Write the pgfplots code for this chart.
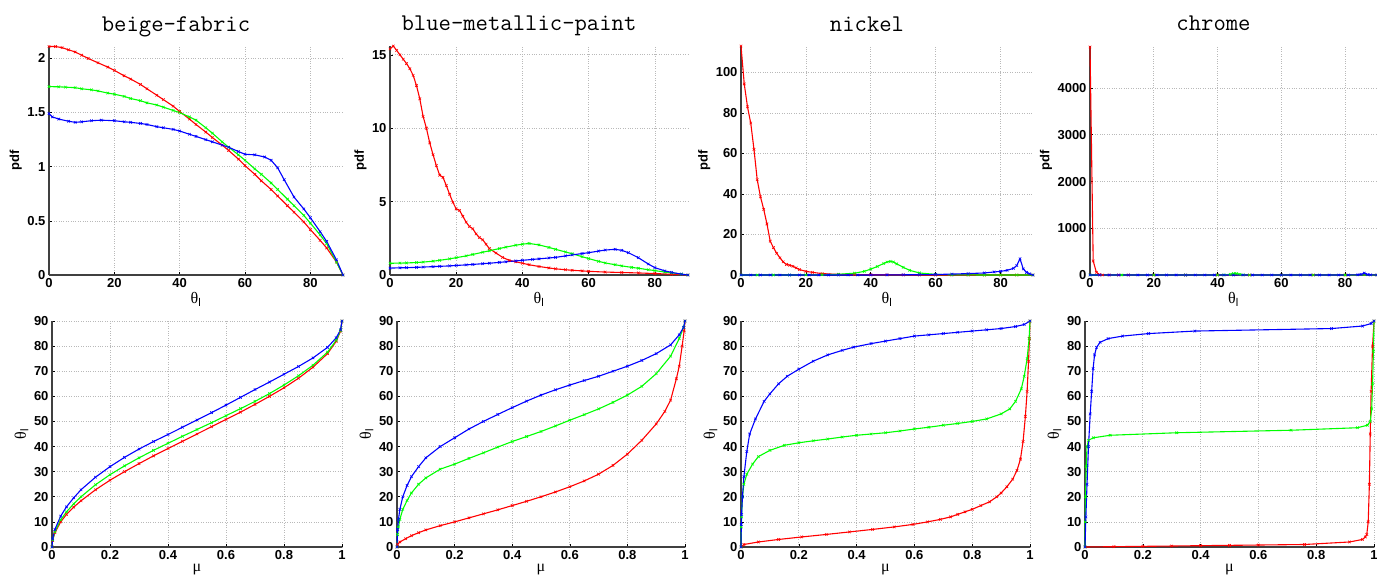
\documentclass[border=0pt]{standalone}
\usepackage{fontspec}
\setmainfont{Liberation Sans}
\newfontfamily\grk{Liberation Serif}
\usepackage{pgfplots}
\pgfplotsset{compat=1.18}

\definecolor{mred}{RGB}{255,0,0}
\definecolor{mgreen}{RGB}{0,255,0}
\definecolor{mblue}{RGB}{0,0,255}

\newcommand{\thl}{{\grk θ}\textsubscript{l}}

\pgfplotsset{
  panel/.style={
    scale only axis, anchor=south west, clip=false,
    axis lines=left, axis line style={-, line width=1.2pt, black!75},
    tick align=inside, major tick length=3pt,
    tick style={black, line width=0.6pt},
    grid=major, grid style={dotted, gray!55, line width=0.7pt},
    tick label style={font=\bfseries\fontsize{13}{15}\selectfont},
    /pgf/number format/assume math mode=true,
    /pgf/number format/1000 sep={},
    scaled ticks=false,
    every axis title/.style={at={(0.5,1)}, anchor=base, yshift=15pt, xshift=-20pt,
      font=\ttfamily\fontsize{24}{26}\selectfont},
    xlabel style={font=\fontsize{16}{18}\selectfont, inner sep=1pt},
    ylabel style={inner sep=2pt},
    every axis plot/.append style={line width=1.1pt, mark=x, mark size=1.8pt,
      mark options={line width=0.6pt}},
  },
  top/.style={panel, height=229pt, xmin=0, xmax=90, ymin=0,
    xtick={0,20,40,60,80}, xlabel={\thl},
    ylabel={pdf}, ylabel style={font=\bfseries\fontsize{13}{15}\selectfont}},
  bot/.style={panel, height=226pt, xmin=0, xmax=1, ymin=0, ymax=90,
    xtick={0,0.2,0.4,0.6,0.8,1}, ytick={0,10,...,90},
    xlabel={{\grk μ}}, ylabel={\thl},
    ylabel style={font=\fontsize{16}{18}\selectfont}},
}

\begin{document}
\begin{tikzpicture}

% ---------- top row: pdf ----------
\begin{axis}[top, at={(49pt,-275pt)}, width=294pt, ymax=2.115,
  ytick={0,0.5,1,1.5,2}, title={beige-fabric}]
\addplot[mred] coordinates {(0,2.11) (2,2.11) (4,2.10) (6,2.08) (8,2.06) (10,2.03) (12,2.0) (15,1.96) (18,1.92) (20,1.89) (23,1.84) (25,1.81) (28,1.76) (30,1.72) (33,1.66) (35,1.62) (38,1.56) (40,1.51) (43,1.44) (45,1.39) (48,1.32) (50,1.27) (53,1.20) (55,1.15) (58,1.07) (60,1.01) (63,0.93) (65,0.87) (68,0.79) (70,0.73) (73,0.64) (75,0.58) (78,0.49) (80,0.42) (83,0.32) (85,0.25) (88,0.12) (90,0)};
\addplot[mgreen] coordinates {(0,1.74) (3,1.738) (5,1.735) (8,1.73) (10,1.72) (13,1.71) (15,1.70) (18,1.68) (20,1.67) (23,1.65) (25,1.63) (28,1.61) (30,1.59) (33,1.57) (35,1.55) (38,1.52) (40,1.50) (43,1.46) (45,1.43) (48,1.36) (50,1.31) (53,1.23) (55,1.18) (58,1.11) (60,1.06) (63,0.98) (65,0.93) (68,0.85) (70,0.79) (73,0.70) (75,0.64) (78,0.55) (80,0.48) (83,0.37) (85,0.29) (88,0.12) (90,0)};
\addplot[mblue] coordinates {(0,1.49) (1,1.46) (3,1.44) (6,1.42) (8,1.41) (10,1.415) (13,1.425) (16,1.43) (20,1.425) (23,1.415) (25,1.41) (28,1.40) (30,1.39) (33,1.37) (35,1.36) (38,1.345) (40,1.33) (43,1.30) (45,1.28) (48,1.25) (50,1.23) (53,1.20) (55,1.18) (58,1.14) (60,1.115) (63,1.11) (66,1.09) (68,1.06) (70,0.99) (72,0.88) (75,0.72) (78,0.61) (80,0.53) (83,0.40) (85,0.31) (88,0.14) (90,0)};
\end{axis}

\begin{axis}[top, at={(390pt,-275pt)}, width=298pt, ymax=15.6,
  ytick={0,5,10,15}, title={blue-metallic-paint}]
\addplot[mred] coordinates {(0,15.4) (1,15.6) (2,15.3) (3,15.0) (4,14.7) (5,14.4) (6,14.05) (7,13.6) (8,12.9) (9,12.0) (10,10.8) (11,10.0) (12,9.0) (13,8.2) (14,7.45) (15,6.8) (16,6.65) (17,6.1) (18,5.5) (19,4.95) (20,4.5) (21,4.4) (22,4.0) (23,3.6) (24,3.3) (25,3.15) (26,2.8) (27,2.55) (28,2.4) (29,2.1) (30,1.8) (32,1.5) (34,1.2) (36,1.0) (38,0.9) (40,0.8) (42,0.7) (45,0.58) (48,0.48) (50,0.42) (53,0.36) (55,0.32) (58,0.28) (60,0.25) (65,0.2) (70,0.17) (75,0.14) (80,0.1) (85,0.05) (90,0)};
\addplot[mgreen] coordinates {(0,0.8) (3,0.81) (5,0.82) (8,0.85) (10,0.88) (13,0.94) (15,1.0) (18,1.1) (20,1.18) (23,1.3) (25,1.4) (28,1.55) (30,1.65) (33,1.8) (35,1.9) (38,2.03) (40,2.1) (42,2.15) (45,2.05) (48,1.88) (50,1.75) (53,1.57) (55,1.45) (58,1.25) (60,1.12) (63,0.93) (65,0.82) (68,0.7) (70,0.62) (73,0.52) (75,0.46) (78,0.36) (80,0.3) (83,0.2) (85,0.15) (88,0.06) (90,0)};
\addplot[mblue] coordinates {(0,0.47) (3,0.49) (5,0.5) (8,0.52) (10,0.54) (13,0.57) (15,0.59) (18,0.62) (20,0.65) (23,0.69) (25,0.72) (28,0.77) (30,0.8) (33,0.86) (35,0.9) (38,0.96) (40,1.0) (43,1.06) (45,1.1) (48,1.16) (50,1.2) (53,1.3) (55,1.37) (58,1.46) (60,1.52) (63,1.63) (65,1.7) (68,1.75) (70,1.68) (72,1.52) (75,1.18) (78,0.75) (80,0.5) (83,0.28) (85,0.18) (88,0.06) (90,0)};
\end{axis}

\begin{axis}[top, at={(741pt,-275pt)}, width=292pt, ymax=113,
  ytick={0,20,40,60,80,100}, title={nickel}]
\addplot[mred] coordinates {(0,113) (1,94.3) (2,83) (3,75) (4,62) (5,47) (6,38.6) (7,32.4) (8,25.2) (9,16.7) (10,13.5) (11,10.7) (12,8.5) (13,6.5) (14,5.2) (15,4.8) (16,4.3) (17,3.5) (18,2.7) (20,1.8) (22,1.3) (25,0.7) (30,0.3) (35,0.2) (40,0.15) (45,0.1) (50,0.05) (55,0) (60,0) (65,0) (70,0) (75,0) (80,0) (85,0) (90,0)};
\addplot[mgreen] coordinates {(0,0) (5,0) (10,0) (15,0) (20,0.05) (25,0.15) (30,0.35) (35,0.9) (38,1.8) (40,2.9) (42,4.2) (44,5.7) (45,6.4) (46,6.7) (47,6.4) (48,5.5) (50,3.8) (52,2.3) (55,1.0) (60,0.3) (65,0.1) (70,0.05) (75,0) (80,0) (85,0) (90,0)};
\addplot[mblue] coordinates {(0,0) (3,0) (6,0) (9,0) (12,0) (15,0) (18,0) (21,0) (24,0) (27,0) (30,0) (33,0) (36,0) (40,0.02) (45,0.05) (50,0.1) (55,0.15) (60,0.25) (65,0.45) (70,0.7) (75,1.0) (78,1.5) (80,1.8) (82,2.3) (84,3.3) (85,4.7) (86,8.0) (87,3.0) (88,1.3) (89,0.6) (90,0)};
\end{axis}

\begin{axis}[top, at={(1090pt,-275pt)}, width=287pt, ymax=4900,
  ytick={0,1000,2000,3000,4000}, title={chrome}]
\addplot[mred] coordinates {(0,4880) (1,300) (2,58) (3,7) (4,1) (6,0) (9,0) (12,0) (20,0) (30,0) (40,0) (50,0) (60,0) (70,0) (80,0) (90,0)};
\addplot[mgreen] coordinates {(0,0) (10,0) (20,0) (30,0) (40,0) (42,2) (44,15) (45,30) (46,30) (47,15) (48,3) (50,0) (60,0) (70,0) (80,0) (90,0)};
\addplot[mblue] coordinates {(0,0) (3,0) (6,0) (9,0) (12,0) (15,0) (18,0) (21,0) (24,0) (27,0) (30,0) (33,0) (36,0) (39,0) (42,0) (45,0) (48,0) (51,0) (54,0) (57,0) (60,0) (63,0) (66,0) (69,0) (72,0) (75,0) (78,0) (81,0) (84,5) (85,12) (86,40) (87,10) (88,3) (90,0)};
\end{axis}

% ---------- bottom row: theta vs mu ----------
\begin{axis}[bot, at={(52pt,-547pt)}, width=290pt]
\addplot[mred] coordinates {(0,0) (0.002,2.6) (0.01,5.7) (0.03,10) (0.05,13) (0.075,15.9) (0.1,18.4) (0.15,22.8) (0.2,26.6) (0.25,30) (0.3,33.2) (0.35,36.3) (0.4,39.2) (0.45,42.1) (0.5,45) (0.55,47.9) (0.6,50.8) (0.65,53.7) (0.7,56.8) (0.75,60) (0.8,63.4) (0.85,67.2) (0.9,71.6) (0.95,77) (0.98,81.9) (0.995,86) (1,90)};
\addplot[mgreen] coordinates {(0,0) (0.002,2.8) (0.01,6.1) (0.03,10.8) (0.05,14) (0.075,17.2) (0.1,20) (0.15,24.8) (0.2,28.8) (0.25,32.3) (0.3,35.5) (0.35,38.5) (0.4,41.3) (0.45,44.1) (0.5,46.8) (0.55,49.5) (0.6,52.3) (0.65,55.1) (0.7,58) (0.75,61.1) (0.8,64.5) (0.85,68.2) (0.9,72.4) (0.95,77.6) (0.98,82.3) (0.995,86.2) (1,90)};
\addplot[mblue] coordinates {(0,0) (0.002,3.2) (0.01,7) (0.03,12.3) (0.05,16) (0.075,19.6) (0.1,22.8) (0.15,27.8) (0.2,32) (0.25,35.7) (0.3,39) (0.35,42) (0.4,44.8) (0.45,47.7) (0.5,50.6) (0.55,53.5) (0.6,56.5) (0.65,59.6) (0.7,62.7) (0.75,65.7) (0.8,68.8) (0.85,71.9) (0.9,75.3) (0.95,79.5) (0.98,83.3) (0.995,86.5) (1,90)};
\end{axis}

\begin{axis}[bot, at={(397pt,-547pt)}, width=288pt]
\addplot[mred] coordinates {(0,0) (0.002,1) (0.01,2) (0.03,3.3) (0.05,4.5) (0.075,5.7) (0.1,6.8) (0.15,8.5) (0.2,10) (0.25,11.6) (0.3,13.2) (0.35,14.8) (0.4,16.5) (0.45,18.2) (0.5,20) (0.55,21.9) (0.6,24) (0.65,26.3) (0.7,29) (0.75,32.5) (0.8,37) (0.85,42.5) (0.9,49) (0.93,54) (0.95,58.5) (0.97,67) (0.98,72) (0.99,80) (0.997,86) (1,90)};
\addplot[mgreen] coordinates {(0,0) (0.002,5) (0.005,8) (0.01,11) (0.02,15) (0.035,18.5) (0.05,21.5) (0.075,25) (0.1,27.5) (0.15,31) (0.2,33) (0.25,35.3) (0.3,37.5) (0.35,39.8) (0.4,42) (0.45,44) (0.5,46) (0.55,48.2) (0.6,50.5) (0.65,52.7) (0.7,55) (0.75,57.6) (0.8,60.5) (0.85,64) (0.9,69) (0.95,76) (0.98,83) (0.995,87.5) (1,90)};
\addplot[mblue] coordinates {(0,0) (0.002,7) (0.005,11) (0.01,15) (0.02,20) (0.035,24.5) (0.05,28) (0.075,32) (0.1,35.5) (0.15,40) (0.2,43.5) (0.25,47) (0.3,50) (0.35,52.8) (0.4,55.5) (0.45,58.1) (0.5,60.5) (0.55,62.6) (0.6,64.5) (0.65,66.3) (0.7,68) (0.75,70) (0.8,72) (0.85,74.3) (0.9,77) (0.95,80.5) (0.98,84.5) (0.995,87.5) (1,90)};
\end{axis}

\begin{axis}[bot, at={(741pt,-547pt)}, width=289pt]
\addplot[mred] coordinates {(0,0) (0.01,1) (0.06,2) (0.13,3) (0.21,4) (0.295,5) (0.375,6) (0.455,7) (0.53,8) (0.595,9) (0.645,10) (0.69,11) (0.725,12) (0.75,13) (0.775,14) (0.8,15) (0.83,16.5) (0.86,18) (0.885,20) (0.9,21.5) (0.92,24) (0.94,27) (0.955,30.5) (0.967,35) (0.976,42) (0.984,52) (0.99,62) (0.995,74) (0.998,83) (1,90)};
\addplot[mgreen] coordinates {(0,0) (0.001,8) (0.002,12) (0.005,20) (0.01,25) (0.02,29) (0.04,33) (0.06,36) (0.1,38.5) (0.15,40.5) (0.2,41.5) (0.25,42.3) (0.3,43) (0.35,43.8) (0.4,44.5) (0.45,45) (0.5,45.5) (0.55,46.2) (0.6,47) (0.65,47.7) (0.7,48.5) (0.75,49.2) (0.8,50) (0.85,51) (0.9,53) (0.93,55) (0.95,58) (0.97,63) (0.98,68) (0.99,75) (0.997,83) (1,90)};
\addplot[mblue] coordinates {(0,0) (0.001,9) (0.002,13) (0.005,20) (0.01,28) (0.02,38) (0.03,45) (0.05,51) (0.08,58) (0.1,61) (0.13,65) (0.16,68) (0.2,70.8) (0.25,74) (0.3,76.5) (0.35,78.3) (0.39,79.6) (0.45,81) (0.5,82) (0.55,83) (0.6,84) (0.65,84.5) (0.7,85) (0.75,85.5) (0.8,86) (0.85,86.5) (0.9,87) (0.95,87.8) (0.98,88.6) (1,90)};
\end{axis}

\begin{axis}[bot, at={(1085pt,-547pt)}, width=289pt]
\addplot[mred] coordinates {(0,0) (0.1,0.13) (0.2,0.26) (0.3,0.39) (0.4,0.53) (0.5,0.66) (0.6,0.79) (0.76,1) (0.915,2) (0.96,3) (0.97,4) (0.975,5) (0.98,10) (0.984,25) (0.987,45) (0.99,62) (0.995,80) (1,90)};
\addplot[mgreen] coordinates {(0,0) (0.001,10) (0.002,20) (0.004,32) (0.007,40) (0.012,42.5) (0.029,43.5) (0.087,44.5) (0.317,45.5) (0.713,46.5) (0.943,47.5) (0.977,48.5) (0.987,50) (0.992,55) (0.995,65) (0.998,78) (1,90)};
\addplot[mblue] coordinates {(0,0) (0.003,12) (0.007,25) (0.012,40) (0.018,53) (0.023,62) (0.028,71) (0.033,76.5) (0.04,79.5) (0.052,81.5) (0.08,83) (0.13,84) (0.22,85) (0.38,86) (0.853,87) (0.96,88) (0.99,89) (1,90)};
\end{axis}

\pgfresetboundingbox
\path[use as bounding box] (0pt,-578pt) rectangle (1377pt,0pt);
\end{tikzpicture}
\end{document}
